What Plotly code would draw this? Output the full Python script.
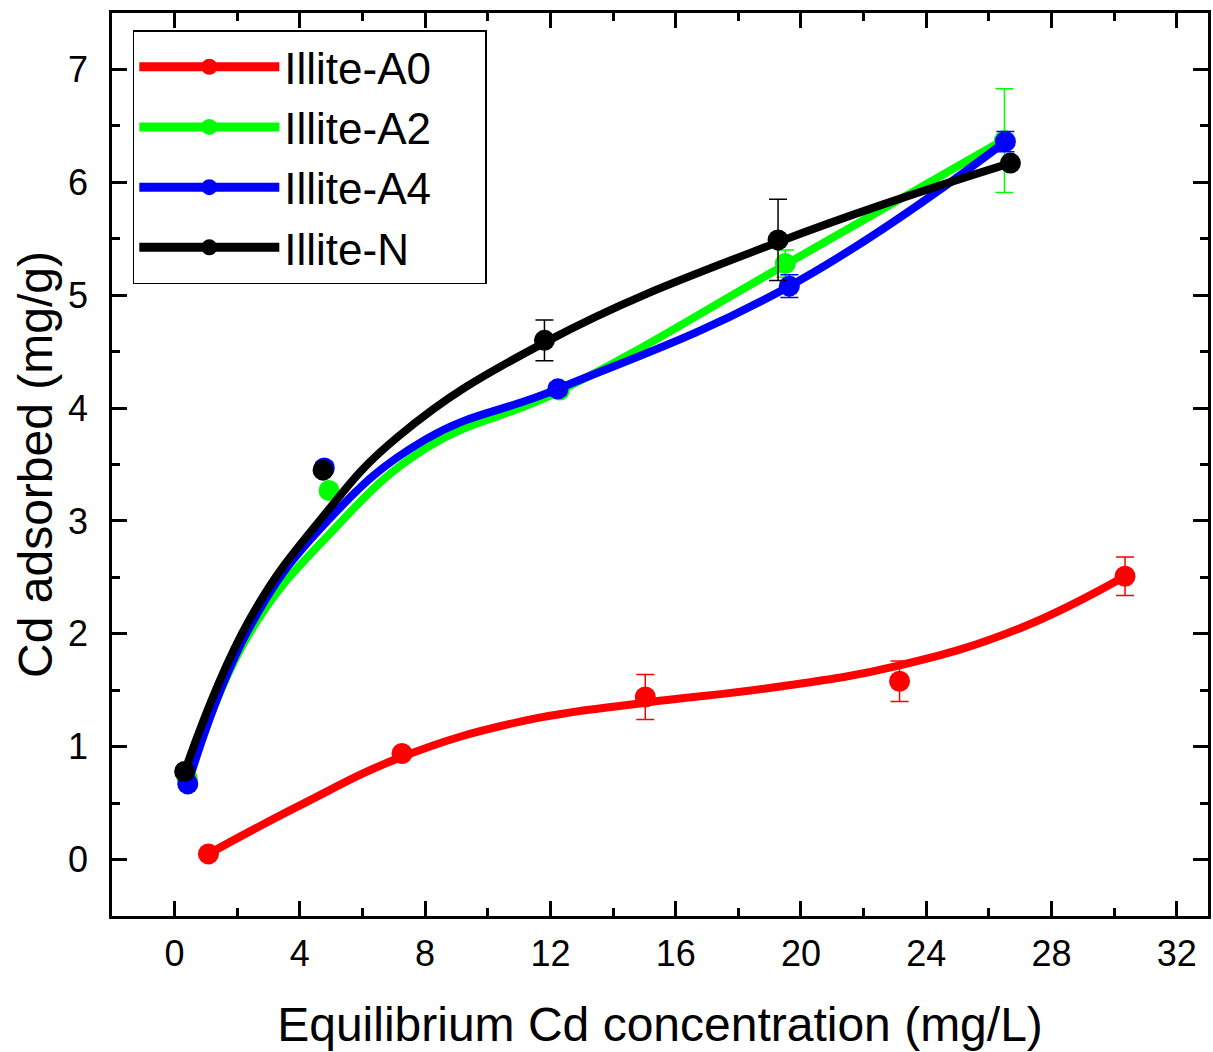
import plotly.graph_objects as go

# ---------------- data ----------------
names = ["Illite-A0", "Illite-A2", "Illite-A4", "Illite-N"]
colors = ["#ff0000", "#00ff00", "#0000ff", "#000000"]

# measured points
a0_x = [1.08, 7.26, 15.03, 23.15, 30.35]
a0_y = [0.05, 0.94, 1.44, 1.58, 2.51]
a0_err = [0.0, 0.0, 0.20, 0.18, 0.17]

a2_x = [0.40, 4.93, 12.29, 19.50, 26.50]
a2_y = [0.72, 3.27, 4.16, 5.28, 6.37]
a2_err = [0.0, 0.0, 0.0, 0.12, 0.46]

a4_x = [0.42, 4.78, 12.24, 19.63, 26.53]
a4_y = [0.67, 3.47, 4.17, 5.08, 6.36]
a4_err = [0.0, 0.05, 0.05, 0.10, 0.09]

n_x = [0.32, 4.74, 11.81, 19.27, 26.69]
n_y = [0.78, 3.45, 4.60, 5.49, 6.17]
n_err = [0.0, 0.0, 0.18, 0.36, 0.03]

# smooth fitted curves
a0_fit_x = [1.08, 4.0, 7.26, 11.0, 15.03, 19.0, 23.15, 27.0, 30.35]
a0_fit_y = [0.05, 0.48, 0.91, 1.22, 1.39, 1.52, 1.72, 2.05, 2.51]

a2_fit_x = [0.40, 2.38, 4.93, 8.0, 12.29, 19.50, 26.50]
a2_fit_y = [0.70, 2.00, 2.88, 3.64, 4.15, 5.27, 6.38]

a4_fit_x = [0.42, 2.38, 4.78, 8.0, 12.24, 19.63, 26.53]
a4_fit_y = [0.67, 2.05, 2.97, 3.72, 4.17, 5.08, 6.36]

n_fit_x = [0.32, 2.38, 4.74, 7.15, 11.81, 19.27, 26.69]
n_fit_y = [0.78, 2.12, 3.04, 3.75, 4.58, 5.47, 6.17]

x_ticks = [0, 4, 8, 12, 16, 20, 24, 28, 32]
y_ticks = [0, 1, 2, 3, 4, 5, 6, 7]

series = [
    (a0_x, a0_y, a0_err, a0_fit_x, a0_fit_y),
    (a2_x, a2_y, a2_err, a2_fit_x, a2_fit_y),
    (a4_x, a4_y, a4_err, a4_fit_x, a4_fit_y),
    (n_x, n_y, n_err, n_fit_x, n_fit_y),
]

FONT = "Arial, Liberation Sans, sans-serif"

fig = go.Figure()
for name, color, (px, py, pe, fx, fy) in zip(names, colors, series):
    fig.add_trace(go.Scatter(
        x=fx, y=fy, mode="lines", line=dict(color=color, width=8, shape="spline", smoothing=1.2),
        showlegend=False, hoverinfo="skip"))
    fig.add_trace(go.Scatter(
        x=px, y=py, mode="markers", marker=dict(color=color, size=21),
        error_y=dict(type="data", array=pe, visible=True, color=color, thickness=1.5, width=9),
        showlegend=False, name=name))
    fig.add_trace(go.Scatter(
        x=[None], y=[None], mode="lines+markers", name=name + "\u00a0\u00a0\u00a0\u00a0",
        line=dict(color=color, width=9), marker=dict(color=color, size=21),
        showlegend=True))

axis_common = dict(
    showgrid=False, zeroline=False, showline=True, linecolor="black", linewidth=2.5,
    mirror="allticks", ticks="inside", ticklen=15, tickwidth=2.5, tickcolor="black",
    tickfont=dict(family=FONT, size=36, color="black"),
)

fig.update_xaxes(
    range=[-2, 33], tickvals=x_ticks, ticktext=[str(v) for v in x_ticks],
    minor=dict(ticks="inside", ticklen=8, tickwidth=2.5, tickcolor="black", dtick=2, tick0=0),
    ticklabelstandoff=4,
    title=dict(text="Equilibrium Cd concentration (mg/L)", font=dict(family=FONT, size=48, color="black"), standoff=35),
    **axis_common)
fig.update_yaxes(
    range=[-0.5, 7.5], tickvals=y_ticks, ticktext=[str(v) for v in y_ticks],
    minor=dict(ticks="inside", ticklen=8, tickwidth=2.5, tickcolor="black", dtick=0.5, tick0=0),
    ticklabelstandoff=14,
    title=dict(text="Cd adsorbed (mg/g)", font=dict(family=FONT, size=48, color="black"), standoff=1),
    **axis_common)

fig.update_layout(
    width=1213, height=1052,
    margin=dict(l=112, r=2, t=13, b=136),
    paper_bgcolor="white", plot_bgcolor="white",
    font=dict(family=FONT, color="black"),
    legend=dict(
        x=0.019, y=0.981, xanchor="left", yanchor="top",
        bgcolor="white", bordercolor="black", borderwidth=1.5,
        font=dict(family=FONT, size=44, color="black"),
        itemwidth=140, tracegroupgap=0, itemsizing="trace",
    ),
)

fig.write_html("out.html")
